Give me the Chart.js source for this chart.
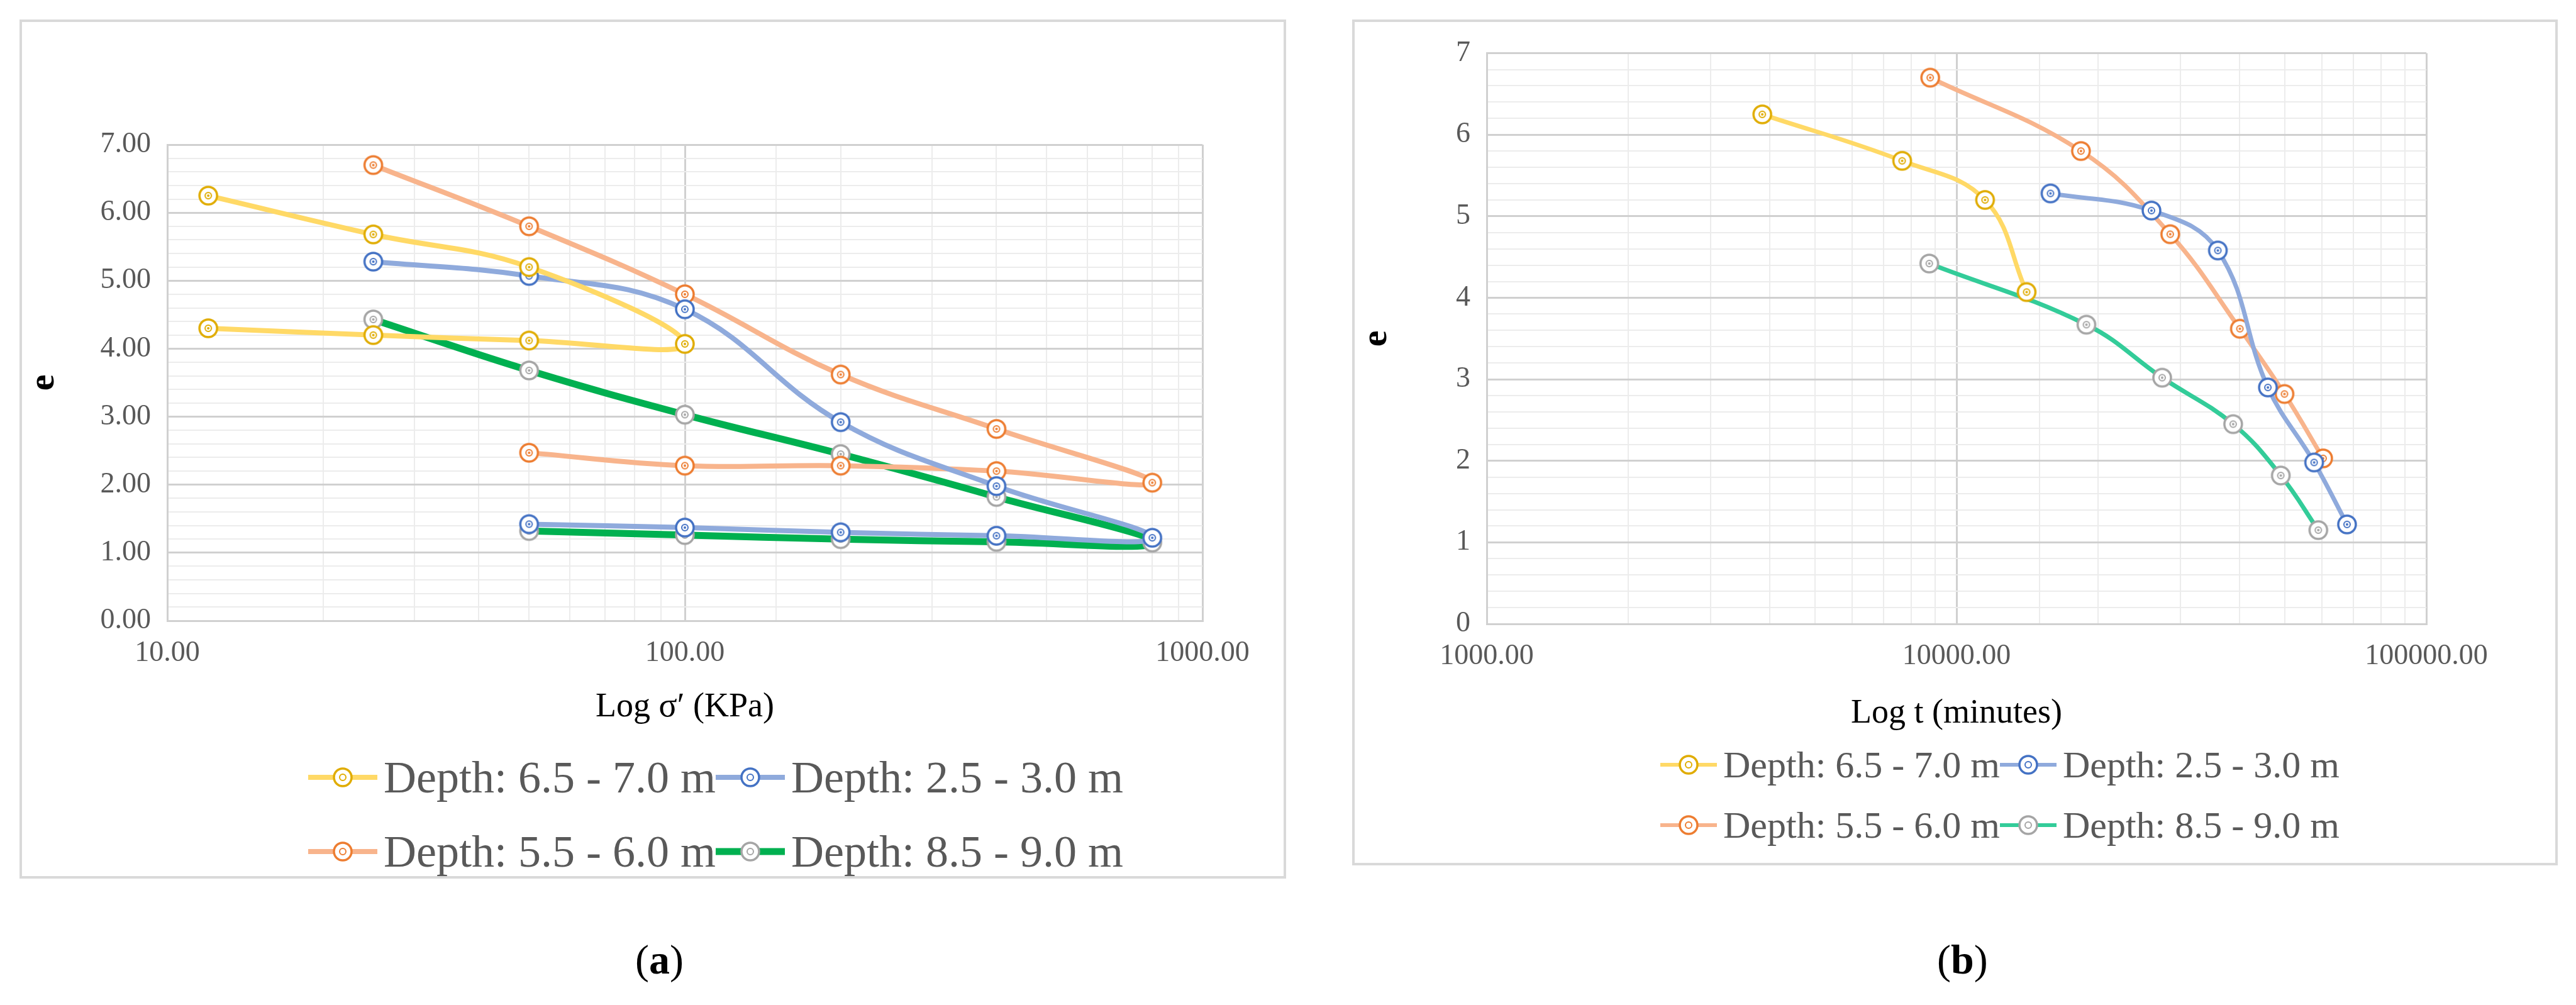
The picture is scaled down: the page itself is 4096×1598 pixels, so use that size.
<!DOCTYPE html>
<html><head><meta charset="utf-8">
<script src="https://cdn.jsdelivr.net/npm/chart.js@4.4.1/dist/chart.umd.min.js"></script>
<style>
body{margin:0;background:#fff;width:4096px;height:1598px;position:relative;overflow:hidden;font-family:"Liberation Serif",serif;}
.box{position:absolute;border:4px solid #d9d9d9;box-sizing:border-box;}
.cv{position:absolute;}
.legend{position:absolute;color:#595959;display:grid;grid-template-columns:auto auto;column-gap:0;line-height:1;}
.legend div{display:flex;align-items:center;white-space:nowrap;}
.cap{position:absolute;font-size:66px;color:#000;}
</style></head><body>
<div class="box" style="left:31px;top:31px;width:2014px;height:1366px"></div>
<div class="box" style="left:2150px;top:31px;width:1917px;height:1345px"></div>
<div class="cv" style="left:31px;top:31px;width:2014px;height:1130px"><canvas id="c1"></canvas></div>
<div class="cv" style="left:2150px;top:31px;width:1917px;height:1140px"><canvas id="c2"></canvas></div>
<div class="legend" id="lg1" style="left:490px;top:1200px;font-size:72px;row-gap:46px"></div>
<div class="legend" id="lg2" style="left:2640px;top:1186px;font-size:60px;row-gap:36px"></div>
<div class="cap" style="left:1010px;top:1488px">(<b>a</b>)</div>
<div class="cap" style="left:3080px;top:1488px">(<b>b</b>)</div>
<script>
// ---- Data panel (a): x = sigma' (kPa), y = e
const aYellowX=[12,25,50,100,50,25,12];
const aYellowY=[6.25,5.68,5.2,4.07,4.12,4.2,4.3];
const aOrangeX=[25,50,100,200,400,800,400,200,100,50];
const aOrangeY=[6.7,5.8,4.8,3.62,2.82,2.03,2.2,2.28,2.28,2.47];
const aBlueX=[25,50,100,200,400,800,400,200,100,50];
const aBlueY=[5.28,5.07,4.58,2.92,1.98,1.22,1.25,1.3,1.37,1.42];
const aGrayX=[25,50,100,200,400,800,400,200,100,50];
const aGrayY=[4.43,3.68,3.03,2.45,1.82,1.15,1.16,1.2,1.26,1.32];
// ---- Data panel (b): x = t (minutes), y = e
const bYellowX=[3860,7660,11500,14100];
const bYellowY=[6.25,5.68,5.2,4.07];
const bOrangeX=[8790,18400,28500,40100,49900,60300];
const bOrangeY=[6.7,5.8,4.78,3.62,2.82,2.03];
const bBlueX=[15850,26000,36000,46000,57700,67800];
const bBlueY=[5.28,5.07,4.58,2.9,1.98,1.22];
const bGrayX=[8750,18900,27400,38800,49000,58900];
const bGrayY=[4.42,3.67,3.02,2.45,1.82,1.15];
const seriesNames=["Depth: 6.5 - 7.0 m","Depth: 2.5 - 3.0 m","Depth: 5.5 - 6.0 m","Depth: 8.5 - 9.0 m"];
const xTicksA=[10,100,1000];
const xTicksB=[1000,10000,100000];
const yMax=7;

const FONT="'Liberation Serif', serif";
function ptImg(c){const r=15,cv=document.createElement('canvas');cv.width=cv.height=2*r+4;const g=cv.getContext('2d');
g.beginPath();g.arc(r+2,r+2,r-1,0,7);g.fillStyle='#fff';g.fill();g.lineWidth=3.5;g.strokeStyle=c;g.stroke();
g.beginPath();g.arc(r+2,r+2,5,0,7);g.lineWidth=2;g.stroke();g.beginPath();g.arc(r+2,r+2,2,0,7);g.fillStyle=c;g.fill();return cv;}
const COL={y:['#FFD966','#E0AC00'],o:['#F8B48C','#ED7D31'],b:['#8FAADC','#4472C4'],g:['#00B050','#A5A5A5'],t:['#33CC99','#A5A5A5']};
function ds(xs,ys,c,lw){return{data:xs.map((x,i)=>({x,y:ys[i]})),showLine:true,borderColor:c[0],borderWidth:lw,tension:0.4,
 pointStyle:ptImg(c[1]),pointRadius:15,backgroundColor:c[0]};}
const isInt=v=>Math.abs(Math.log10(v)-Math.round(Math.log10(v)))<1e-6;
const isWhole=v=>Math.abs(v-Math.round(v))<1e-6;
function mk(id,datasets,xmin,xmax,xtitle,ywidth,pad,xh,yLabel){
 new Chart(document.getElementById(id),{type:'scatter',data:{datasets},
 options:{responsive:true,maintainAspectRatio:false,animation:false,layout:{padding:pad},
 plugins:{legend:{display:false},tooltip:{enabled:false}},
 scales:{x:{type:'logarithmic',min:xmin,max:xmax,
   grid:{color:c=>c.tick&&isInt(c.tick.value)?'#d0d0d0':'#ececec',lineWidth:c=>c.tick&&isInt(c.tick.value)?3:2,drawTicks:false},
   border:{color:'#d0d0d0',width:3},
   ticks:{autoSkip:false,maxRotation:0,padding:24,color:'#595959',font:{family:FONT,size:46},callback:v=>isInt(v)?v.toFixed(2):''},
   title:{display:true,text:xtitle,color:'#000',font:{family:FONT,size:54},padding:{top:22}},
   afterFit:s=>{s.height=xh;}},
  y:{min:0,max:yMax,
   grid:{color:c=>c.tick&&isWhole(c.tick.value)?'#d0d0d0':'#ececec',lineWidth:c=>c.tick&&isWhole(c.tick.value)?3:2,drawTicks:false},
   border:{color:'#d0d0d0',width:3},
   ticks:{stepSize:0.2,autoSkip:false,padding:26,color:'#595959',font:{family:FONT,size:46},
     callback:v=>isWhole(v)?yLabel(Math.round(v)):''},
   title:{display:true,text:'e',color:'#000',font:{family:FONT,size:58,weight:'bold'},padding:{bottom:20}},
   afterFit:s=>{s.width=ywidth;}}}}});
}
mk('c1',[ds(aYellowX,aYellowY,COL.y,8),ds(aBlueX,aBlueY,COL.b,8),ds(aOrangeX,aOrangeY,COL.o,8),ds(aGrayX,aGrayY,COL.g,11)],
 xTicksA[0],xTicksA[2],'Log σ′ (KPa)',235,{top:199,right:133,left:0,bottom:0},174,v=>v.toFixed(2));
mk('c2',[ds(bYellowX,bYellowY,COL.y,7),ds(bBlueX,bBlueY,COL.b,7),ds(bOrangeX,bOrangeY,COL.o,7),ds(bGrayX,bGrayY,COL.t,7)],
 xTicksB[0],xTicksB[2],'Log t (minutes)',214,{top:47,right:209,left:0,bottom:0},179,v=>String(v));
function legend(id,cols,lw,w){const el=document.getElementById(id);
 [0,1,2,3].forEach(i=>{const c=cols[i];const d=document.createElement('div');
  d.innerHTML=`<svg width="${w}" height="44" style="margin-right:10px"><line x1="0" y1="22" x2="${w}" y2="22" stroke="${c[0]}" stroke-width="${i==3&&lw>7?lw+3:lw}"/><circle cx="${w/2}" cy="22" r="14" fill="#fff" stroke="${c[1]}" stroke-width="3.5"/><circle cx="${w/2}" cy="22" r="5" fill="none" stroke="${c[1]}" stroke-width="2"/></svg><span>${seriesNames[i]}</span>`;
  el.appendChild(d);});}
legend('lg1',[COL.y,COL.b,COL.o,COL.g],8,110);
legend('lg2',[COL.y,COL.b,COL.o,COL.t],6,90);
</script></body></html>
